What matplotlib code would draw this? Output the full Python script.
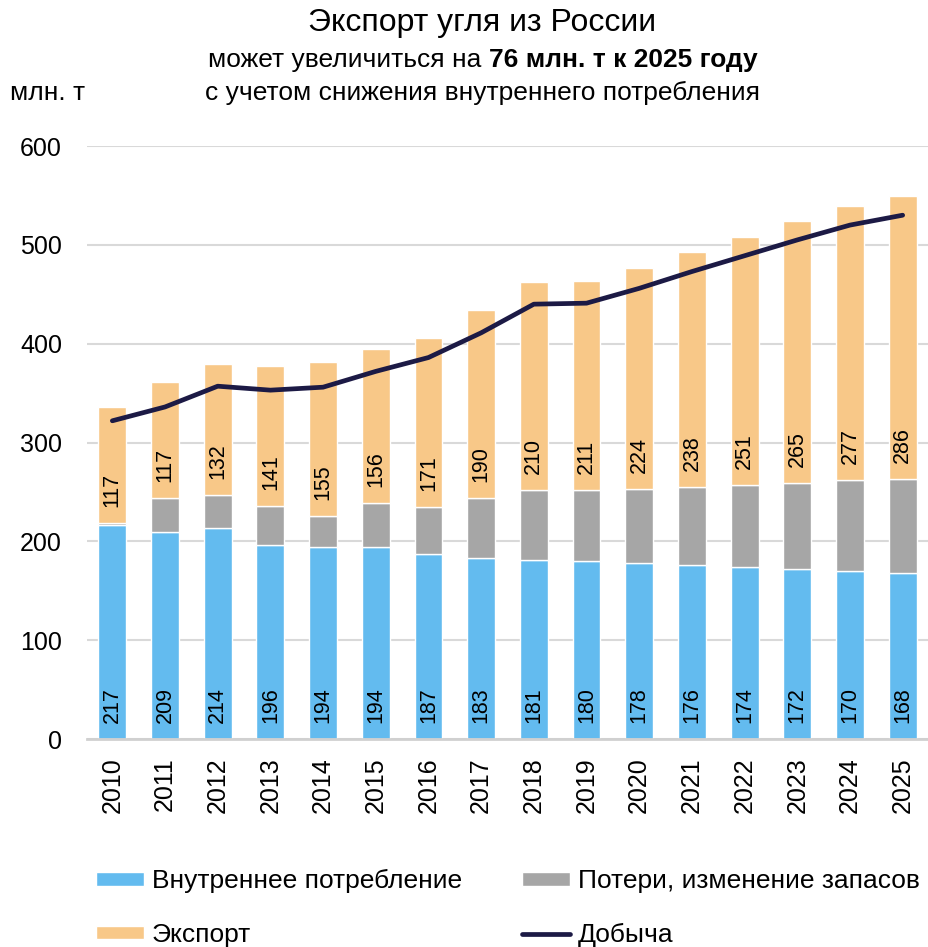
import numpy as np
from matplotlib import pyplot as plt

plt.rcParams['font.family'] = ['Liberation Sans', 'DejaVu Sans']

years = ['2010', '2011', '2012', '2013', '2014', '2015', '2016', '2017',
         '2018', '2019', '2020', '2021', '2022', '2023', '2024', '2025']
domestic = [217, 209, 214, 196, 194, 194, 187, 183, 181, 180, 178, 176, 174, 172, 170, 168]
losses = [2, 35, 33, 40, 32, 45, 48, 61, 71, 72, 75, 79, 83, 87, 92, 95]
export = [117, 117, 132, 141, 155, 156, 171, 190, 210, 211, 224, 238, 251, 265, 277, 286]
production = [322, 336, 357, 353, 356, 372, 386, 411, 440, 441, 456, 473, 489, 505, 520, 530]

c_blue = '#63bbef'
c_gray = '#a6a6a6'
c_orange = '#f8c888'
c_line = '#1c1a45'

fig = plt.figure(figsize=(9.29, 9.47), dpi=100)
ax = fig.add_axes([0.0937, 0.2196, 0.9063, 0.6262])

x = np.arange(len(years))
dom = np.array(domestic)
los = np.array(losses)
exp = np.array(export)
w = 0.53

b1 = ax.bar(x, dom, w, color=c_blue, edgecolor='white', linewidth=1, zorder=2)
b2 = ax.bar(x, los, w, bottom=dom, color=c_gray, edgecolor='white', linewidth=1, zorder=2)
b3 = ax.bar(x, exp, w, bottom=dom + los, color=c_orange, edgecolor='white', linewidth=1,
            zorder=2)
ln, = ax.plot(x, production, color=c_line, lw=3.4, solid_capstyle='round',
              solid_joinstyle='round', zorder=3)

# value labels near the base of each segment
for i in range(len(years)):
    ax.annotate(str(domestic[i]), (x[i], 0), xytext=(0, 11.5), textcoords='offset points',
                rotation=90, ha='center', va='bottom', fontsize=15.5, zorder=4)
    ax.annotate(str(export[i]), (x[i], dom[i] + los[i]), xytext=(0, 11.5),
                textcoords='offset points', rotation=90, ha='center', va='bottom',
                fontsize=15.5, zorder=4)

ax.set_xlim(-0.48, 15.5)
ax.set_ylim(0, 600)
ax.set_yticks(range(0, 601, 100))
ax.set_xticks(x)
ax.set_xticklabels(years, rotation=90)
ax.tick_params(axis='y', length=0, pad=18, labelsize=18)
ax.tick_params(axis='x', length=0, pad=13, labelsize=18)
ax.grid(axis='y', color='#d9d9d9', lw=1.5, zorder=0)
ax.set_axisbelow(True)
for s in ['top', 'right', 'left']:
    ax.spines[s].set_visible(False)
ax.spines['bottom'].set_color('#d0d0d0')
ax.spines['bottom'].set_linewidth(2)

fig.text(0.519, 0.976, 'Экспорт угля из России', ha='center', va='center', fontsize=23)
fig.text(0.526, 0.937, 'может увеличиться на ', ha='right', va='center', fontsize=19)
fig.text(0.526, 0.937, '76 млн. т к 2025 году', ha='left', va='center', fontsize=19,
         fontweight='bold')
fig.text(0.519, 0.902, 'с учетом снижения внутреннего потребления',
         ha='center', va='center', fontsize=19)
fig.text(0.011, 0.902, 'млн. т', ha='left', va='center', fontsize=19)

fig.legend([b1, b3, b2, ln],
           ['Внутреннее потребление', 'Экспорт', 'Потери, изменение запасов', 'Добыча'],
           ncol=2, loc='upper left', bbox_to_anchor=(0.103, 0.082), frameon=False,
           fontsize=19, handlelength=1.82, handleheight=0.4, handletextpad=0.3,
           columnspacing=2.27, labelspacing=1.12, borderpad=0, borderaxespad=0)

plt.savefig('out.png', dpi=100)
